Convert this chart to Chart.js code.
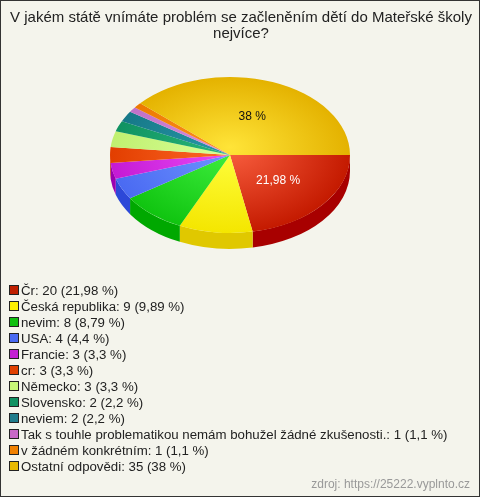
<!DOCTYPE html>
<html>
<head>
<meta charset="utf-8">
<script src="https://cdn.jsdelivr.net/npm/chart.js@4/dist/chart.umd.min.js"></script>
<style>
  body { margin: 0; background: #f4f4ec; }
  canvas { display: block; }
</style>
</head>
<body>
<canvas id="chart" width="480" height="497"></canvas>
<script>
const titleLines = ['V jakém státě vnímáte problém se začleněním dětí do Mateřské školy', 'nejvíce?'];
const categories = ['Čr', 'Česká republika', 'nevim', 'USA', 'Francie', 'cr', 'Německo', 'Slovensko',
  'neviem', 'Tak s touhle problematikou nemám bohužel žádné zkušenosti.', 'v žádném konkrétním', 'Ostatní odpovědi'];
const counts = [20, 9, 8, 4, 3, 3, 3, 2, 2, 1, 1, 35];
const percents = ['21,98', '9,89', '8,79', '4,4', '3,3', '3,3', '3,3', '2,2', '2,2', '1,1', '1,1', '38'];
const sourceText = 'zdroj: https://25222.vyplnto.cz';

// top face gradient (centre, edge), side wall, legend box
const lightColors = ['#fa6040', '#ffff40', '#40f040', '#6f95ff', '#ea4cf8', '#ff6a28', '#d8ff98', '#28b878', '#2898a8', '#dc90dc', '#ff9020', '#ffe438'];
const darkColors  = ['#c41a00', '#f4e600', '#10c410', '#4a6af2', '#c41ad4', '#e23e00', '#c0f070', '#109262', '#167888', '#c070c8', '#ec7a00', '#e4b200'];
const sideColors  = ['#a80000', '#e0c800', '#00a800', '#2c48d8', '#9a00b0', '#c03000', '#a0d060', '#087a50', '#0c6070', '#a050a8', '#c86000', '#c49800'];
const legendColors = ['#c02000', '#fff000', '#10c010', '#4a6af2', '#c420d4', '#e04000', '#c8f878', '#109262', '#207c8c', '#c868c8', '#f08000', '#e8b800'];

const SQUASH = 0.65;
const DEPTH = 16;
const FONT = '"Liberation Sans", Arial, sans-serif';

const pie3d = {
  id: 'pie3d',
  beforeDraw(chart) {
    const ctx = chart.ctx;
    ctx.save();
    ctx.fillStyle = '#f4f4ec';
    ctx.fillRect(0, 0, chart.width, chart.height);
    ctx.fillStyle = '#222';
    ctx.font = '15px ' + FONT;
    ctx.textAlign = 'center';
    ctx.textBaseline = 'middle';
    titleLines.forEach((t, i) => ctx.fillText(t, 241, 18 + i * 16));
    ctx.restore();
  },
  beforeDatasetsDraw(chart) {
    const ctx = chart.ctx;
    const arcs = chart.getDatasetMeta(0).data;
    const cx = arcs[0].x, cy = arcs[0].y, r = arcs[0].outerRadius, ry = r * SQUASH;
    // side walls of the front half
    arcs.forEach((arc, i) => {
      const a0 = Math.max(arc.startAngle, 0);
      const a1 = Math.min(arc.endAngle, Math.PI);
      if (a1 <= a0) return;
      ctx.beginPath();
      ctx.ellipse(cx, cy, r, ry, 0, a0, a1);
      ctx.ellipse(cx, cy + DEPTH, r, ry, 0, a1, a0, true);
      ctx.closePath();
      ctx.fillStyle = sideColors[i];
      ctx.fill();
    });
    ctx.save();
    ctx.translate(cx, cy);
    ctx.scale(1, SQUASH);
    ctx.translate(-cx, -cy);
  },
  afterDatasetsDraw(chart) {
    const ctx = chart.ctx;
    ctx.restore();
    const arcs = chart.getDatasetMeta(0).data;
    const total = counts.reduce((a, b) => a + b, 0);
    ctx.save();
    ctx.font = '12px ' + FONT;
    ctx.textAlign = 'center';
    ctx.textBaseline = 'middle';
    arcs.forEach((arc, i) => {
      if (counts[i] / total < 0.15) return;
      const mid = (arc.startAngle + arc.endAngle) / 2;
      const d = arc.outerRadius * 0.52;
      ctx.fillStyle = i === 0 ? '#fff' : '#111';
      ctx.fillText(percents[i] + ' %', arc.x + d * Math.cos(mid), arc.y + d * SQUASH * Math.sin(mid));
    });
    ctx.restore();
  },
  afterDraw(chart) {
    const ctx = chart.ctx;
    ctx.save();
    ctx.font = '13.25px ' + FONT;
    ctx.textBaseline = 'middle';
    ctx.lineWidth = 1;
    categories.forEach((c, i) => {
      const y = 290 + i * 16;
      ctx.fillStyle = legendColors[i];
      ctx.fillRect(9, y - 5, 10, 10);
      ctx.strokeStyle = '#222';
      ctx.strokeRect(9.5, y - 4.5, 9, 9);
      ctx.fillStyle = '#222';
      ctx.fillText(c + ': ' + counts[i] + ' (' + percents[i] + ' %)', 21, y + 1);
    });
    ctx.fillStyle = '#999';
    ctx.font = '12px ' + FONT;
    ctx.textAlign = 'right';
    ctx.fillText(sourceText, 470, 485);
    ctx.strokeStyle = '#333';
    ctx.strokeRect(0.5, 0.5, chart.width - 1, chart.height - 1);
    ctx.restore();
  }
};

function topGradient(c) {
  const chart = c.chart, area = chart.chartArea;
  const i = c.dataIndex;
  if (!area) return darkColors[i];
  const cx = (area.left + area.right) / 2, cy = (area.top + area.bottom) / 2;
  const r = Math.min(area.width, area.height) / 2;
  const g = chart.ctx.createRadialGradient(cx, cy - r * 0.1, 0, cx, cy, r);
  g.addColorStop(0, lightColors[i]);
  g.addColorStop(1, darkColors[i]);
  return g;
}

new Chart(document.getElementById('chart'), {
  type: 'pie',
  data: {
    labels: categories,
    datasets: [{
      data: counts,
      backgroundColor: topGradient,
      borderWidth: 0
    }]
  },
  options: {
    responsive: false,
    animation: false,
    rotation: 90,
    layout: { padding: { left: 110, right: 130, top: 35, bottom: 222 } },
    plugins: {
      legend: { display: false },
      title: { display: false },
      tooltip: { enabled: false }
    }
  },
  plugins: [pie3d]
});
</script>
</body>
</html>
